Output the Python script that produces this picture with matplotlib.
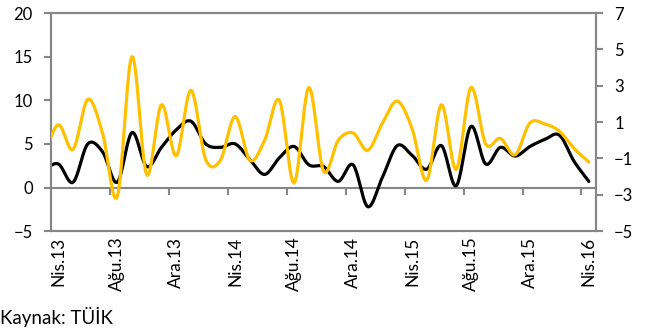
import numpy as np
import matplotlib
matplotlib.use("Agg")
import matplotlib.pyplot as plt

plt.rcParams['font.family'] = ['Lato', 'DejaVu Sans']

# Mar.13 is kept so the curve enters from the left edge; the axis starts at Nis.13
months = ['Mar.13', 'Nis.13', 'May.13', 'Haz.13', 'Tem.13', 'Ağu.13', 'Eyl.13', 'Eki.13', 'Kas.13',
          'Ara.13', 'Oca.14', 'Şub.14', 'Mar.14', 'Nis.14', 'May.14', 'Haz.14', 'Tem.14', 'Ağu.14',
          'Eyl.14', 'Eki.14', 'Kas.14', 'Ara.14', 'Oca.15', 'Şub.15', 'Mar.15', 'Nis.15', 'May.15',
          'Haz.15', 'Tem.15', 'Ağu.15', 'Eyl.15', 'Eki.15', 'Kas.15', 'Ara.15', 'Oca.16', 'Şub.16',
          'Mar.16', 'Nis.16']

# left axis series (black)
black_vals = [2.0, 2.7, 0.6, 5.0, 4.1, 0.6, 6.3, 2.4, 4.6, 6.6, 7.6, 5.0, 4.6, 5.0, 3.2, 1.5, 3.4,
              4.7, 2.6, 2.4, 0.7, 2.6, -2.2, 1.2, 4.8, 3.7, 2.1, 4.8, 0.2, 7.0, 2.7, 4.6, 3.6,
              4.7, 5.5, 6.0, 3.0, 0.7]
# right axis series (orange)
orange_vals = [-0.9, 0.85, -0.5, 2.25, 0.4, -3.1, 4.6, -1.9, 1.95, -0.85, 2.75, -1.05, -1.1, 1.3,
               -1.1, 0.0, 2.2, -2.35, 2.9, -1.7, 0.0, 0.4, -0.55, 0.95, 2.15, 0.65, -2.2, 1.95,
               -1.6, 2.9, -0.2, 0.1, -0.8, 0.95, 0.9, 0.5, -0.45, -1.2]

first_shown = 1
label_every = 4
left_ticks = [-5, 0, 5, 10, 15, 20]
right_ticks = [-5, -3, -1, 1, 3, 5, 7]

axis_grey = '#868686'


def smooth(xs, ys, n=20):
    # Catmull-Rom curve through every point, like a spreadsheet "smoothed line"
    xs = np.asarray(xs, float)
    ys = np.asarray(ys, float)
    px = np.concatenate([[2 * xs[0] - xs[1]], xs, [2 * xs[-1] - xs[-2]]])
    py = np.concatenate([[2 * ys[0] - ys[1]], ys, [2 * ys[-1] - ys[-2]]])
    out_x, out_y = [], []
    t = np.linspace(0, 1, n, endpoint=False)
    for i in range(1, len(px) - 2):
        for p, out in ((px, out_x), (py, out_y)):
            p0, p1, p2, p3 = p[i - 1], p[i], p[i + 1], p[i + 2]
            out.extend(0.5 * (2 * p1 + (-p0 + p2) * t + (2 * p0 - 5 * p1 + 4 * p2 - p3) * t ** 2
                              + (-p0 + 3 * p1 - 3 * p2 + p3) * t ** 3))
    out_x.append(xs[-1])
    out_y.append(ys[-1])
    return np.array(out_x), np.array(out_y)


x = np.arange(len(months))

fig = plt.figure(figsize=(6.53, 3.34), dpi=100)
ax = fig.add_axes([0.078, 0.308, 0.835, 0.653])
ax2 = ax.twinx()

sx, sy = smooth(x, black_vals)
ax.plot(sx, sy, color='black', lw=2.3, solid_capstyle='round', zorder=3)
ox, oy = smooth(x, orange_vals)
ax2.plot(ox, oy, color='#FFC000', lw=2.3, solid_capstyle='round', zorder=3)

ax.set_xlim(first_shown - 0.5, len(months) - 0.5)
ax.set_ylim(-5, 20)
ax2.set_ylim(-5, 7)
ax.set_yticks(left_ticks)
ax2.set_yticks(right_ticks)

for a in (ax, ax2):
    for s in a.spines.values():
        s.set_color(axis_grey)
        s.set_linewidth(1.5)
ax.tick_params(axis='y', length=5, width=1.5, color=axis_grey, labelsize=12, pad=8)
ax2.tick_params(axis='y', length=5, width=1.5, color=axis_grey, labelsize=12, pad=8)

ax.set_xticks(x[first_shown::label_every])
ax.set_xticklabels(months[first_shown::label_every], rotation=90)
ax.tick_params(axis='x', length=0, labelsize=12.5, pad=4)

# category axis crossing at zero, ticks between month groups
zero_axis = ax.secondary_xaxis((0 - (-5)) / 25)
zero_axis.spines['bottom'].set_color(axis_grey)
zero_axis.spines['bottom'].set_linewidth(1.5)
zero_axis.set_xticks(np.arange(first_shown + label_every - 0.5, len(months), label_every))
zero_axis.tick_params(axis='x', length=5, width=1.5, color=axis_grey, labelbottom=False)

fig.text(0.0, 0.02, 'Kaynak: TÜİK', fontsize=13.5, ha='left', va='bottom')

fig.savefig('out.png', dpi=100)
